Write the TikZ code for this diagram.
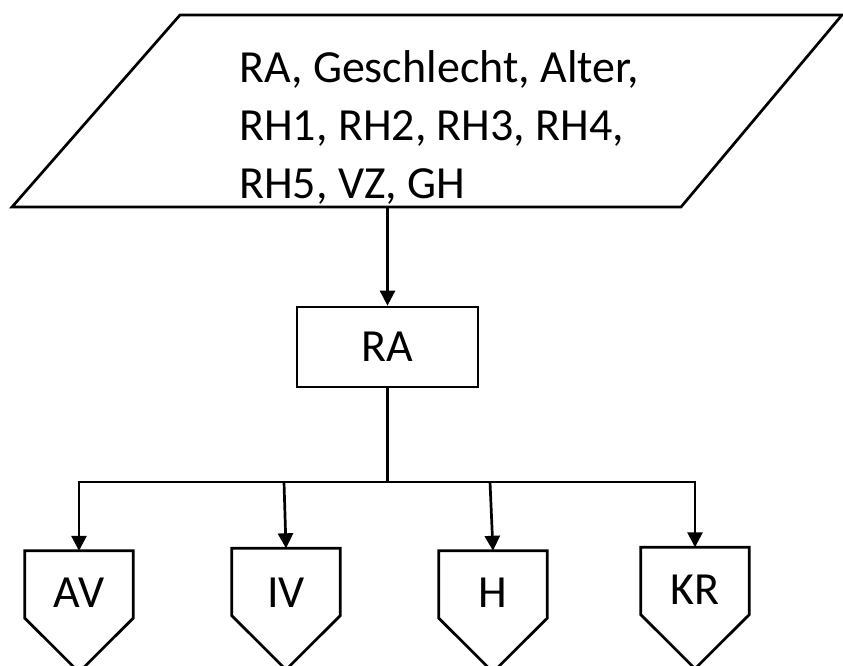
\documentclass[tikz,border=0pt]{standalone}
\usepackage{fontspec}
\setmainfont{Carlito}
\usetikzlibrary{arrows.meta,calc}
\begin{document}
\begin{tikzpicture}[x=1pt,y=-1pt,
  every node/.style={font=\fontsize{46}{56}\selectfont, inner sep=0pt},
  shapeline/.style={line width=2.7pt, line join=miter, black},
  conn/.style={line width=2.7pt, black},
  arr/.style={conn, -{Triangle[length=15pt,width=15pt]}},
  procbox/.style={draw, line width=2.7pt, minimum width=181pt, minimum height=80pt},
  pentbox/.style={minimum width=108pt, minimum height=67pt, text depth=0pt},
  inline/.style={anchor=base west}
]
\useasboundingbox (0,0) rectangle (843,666);
\fill[white] (0,0) rectangle (843,666);

% input parallelogram
\draw[shapeline] (180,15) -- (842,15) -- (681,207) -- (12,207) -- cycle;
\node[inline] (in1) at (239,83) {RA, Geschlecht, Alter,};
\node[inline] (in2) at (239,141) {RH1, RH2, RH3, RH4,};
\node[inline] (in3) at (239,198) {RH5, VZ, GH};
\coordinate (inbot) at (387.5,207);

% RA process box
\node[procbox] (ra) at (387.5,347) {RA};

% output pentagons
\node[pentbox, text height=45.6pt] (av) at (79,584.5) {AV};
\node[pentbox, text height=50.6pt] (iv) at (286,582) {IV};
\node[pentbox, text height=45.6pt] (h)  at (493,584.5) {H};
\node[pentbox, text height=47.6pt] (kr) at (695,581) {KR};
\foreach \n in {av,iv,h,kr}{
  \draw[shapeline] (\n.north west) -- (\n.north east) -- (\n.south east)
    -- ($(\n.south)+(0,54)$) -- (\n.south west) -- cycle;
}

% connectors
\draw[arr] (inbot) -- (ra.north);
\coordinate (split) at (387.5,482);
\coordinate (jav) at (av.north |- split);
\coordinate (jiv) at (284,482);
\coordinate (jh)  at (490,482);
\coordinate (jkr) at (kr.north |- split);
\draw[conn] (ra.south) -- (split);
\draw[conn, line cap=rect] (jav) -- (jkr);
\draw[arr] (jav) -- (av.north);
\draw[arr] (jiv) -- (iv.north);
\draw[arr] (jh) -- (h.north);
\draw[arr] (jkr) -- (kr.north);
\end{tikzpicture}
\end{document}
